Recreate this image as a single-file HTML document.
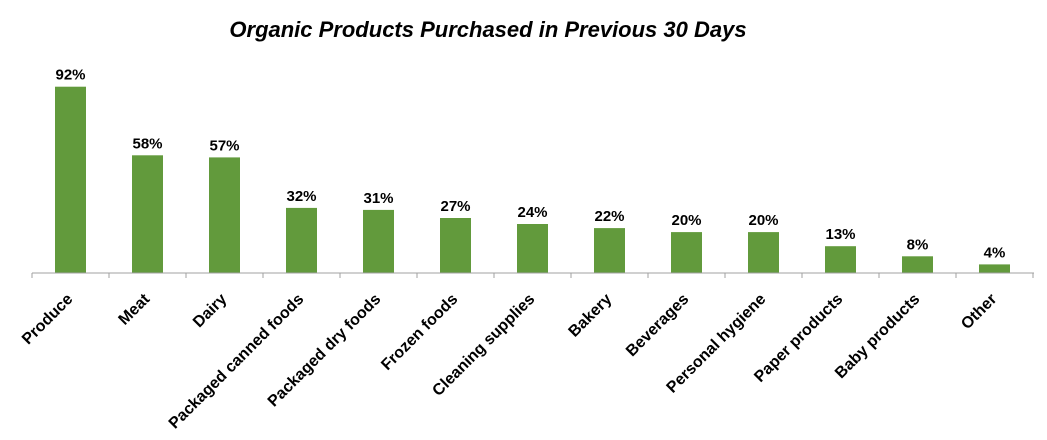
<!DOCTYPE html>
<html><head><style>body{margin:0;background:#fff}svg{display:block}</style></head><body>
<svg width="1047" height="440" xmlns="http://www.w3.org/2000/svg" font-family="Liberation Sans, Arial, sans-serif">
<text x="488" y="37" text-anchor="middle" font-size="22" font-weight="bold" font-style="italic">Organic Products Purchased in Previous 30 Days</text>
<line x1="32" y1="273" x2="1034" y2="273" stroke="#a0a0a0" stroke-width="1"/>
<g stroke="#a0a0a0">
<line x1="32" y1="273" x2="32" y2="278"/><line x1="109" y1="273" x2="109" y2="278"/><line x1="186" y1="273" x2="186" y2="278"/><line x1="263" y1="273" x2="263" y2="278"/><line x1="340" y1="273" x2="340" y2="278"/><line x1="417" y1="273" x2="417" y2="278"/><line x1="494" y1="273" x2="494" y2="278"/><line x1="571" y1="273" x2="571" y2="278"/><line x1="648" y1="273" x2="648" y2="278"/><line x1="725" y1="273" x2="725" y2="278"/><line x1="802" y1="273" x2="802" y2="278"/><line x1="879" y1="273" x2="879" y2="278"/><line x1="956" y1="273" x2="956" y2="278"/><line x1="1033" y1="273" x2="1033" y2="278"/>
</g>
<g fill="#629a3c">
<rect x="55" y="86.7" width="31" height="185.8"/>
<rect x="132" y="155.3" width="31" height="117.2"/>
<rect x="209" y="157.4" width="31" height="115.1"/>
<rect x="286" y="207.9" width="31" height="64.6"/>
<rect x="363" y="209.9" width="31" height="62.6"/>
<rect x="440" y="218" width="31" height="54.5"/>
<rect x="517" y="224" width="31" height="48.5"/>
<rect x="594" y="228.1" width="31" height="44.4"/>
<rect x="671" y="232.1" width="31" height="40.4"/>
<rect x="748" y="232.1" width="31" height="40.4"/>
<rect x="825" y="246.2" width="31" height="26.3"/>
<rect x="902" y="256.3" width="31" height="16.2"/>
<rect x="979" y="264.4" width="31" height="8.1"/>
</g>
<g font-size="15" font-weight="bold" text-anchor="middle">
<text x="70.5" y="79.7">92%</text>
<text x="147.5" y="148.3">58%</text>
<text x="224.5" y="150.4">57%</text>
<text x="301.5" y="200.9">32%</text>
<text x="378.5" y="202.9">31%</text>
<text x="455.5" y="211">27%</text>
<text x="532.5" y="217">24%</text>
<text x="609.5" y="221.1">22%</text>
<text x="686.5" y="225.1">20%</text>
<text x="763.5" y="225.1">20%</text>
<text x="840.5" y="239.2">13%</text>
<text x="917.5" y="249.3">8%</text>
<text x="994.5" y="257.4">4%</text>
</g>
<g font-size="16" font-weight="bold" text-anchor="end">
<text transform="translate(73.5,300) rotate(-45)">Produce</text>
<text transform="translate(150.5,300) rotate(-45)">Meat</text>
<text transform="translate(227.5,300) rotate(-45)">Dairy</text>
<text transform="translate(304.5,300) rotate(-45)">Packaged canned foods</text>
<text transform="translate(381.5,300) rotate(-45)">Packaged dry foods</text>
<text transform="translate(458.5,300) rotate(-45)">Frozen foods</text>
<text transform="translate(535.5,300) rotate(-45)">Cleaning supplies</text>
<text transform="translate(612.5,300) rotate(-45)">Bakery</text>
<text transform="translate(689.5,300) rotate(-45)">Beverages</text>
<text transform="translate(766.5,300) rotate(-45)">Personal hygiene</text>
<text transform="translate(843.5,300) rotate(-45)">Paper products</text>
<text transform="translate(920.5,300) rotate(-45)">Baby products</text>
<text transform="translate(997.5,300) rotate(-45)">Other</text>
</g>
</svg>
</body></html>
